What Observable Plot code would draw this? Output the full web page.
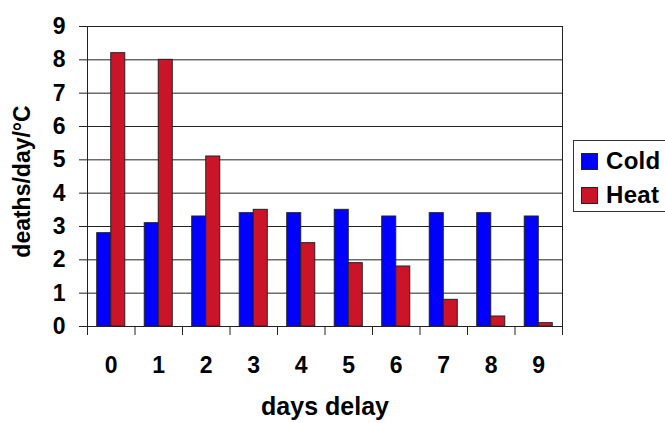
<!DOCTYPE html>
<html>
<head>
<meta charset="utf-8">
<script src="https://cdn.jsdelivr.net/npm/d3@7"></script>
<script src="https://cdn.jsdelivr.net/npm/@observablehq/plot@0.6"></script>
<style>
  html, body { margin: 0; padding: 0; background: #fff; overflow: hidden; }
  #wrap { position: relative; width: 665px; height: 423px; overflow: hidden; font-family: "Liberation Sans", Arial, sans-serif; }
  #legend { position: absolute; left: 573px; top: 140px; width: 120px; height: 72px; border: 1px solid #333; box-sizing: border-box; background: #fff; }
  .row { position: absolute; left: 7px; height: 24px; display: flex; align-items: center; font-weight: bold; font-size: 24px; color: #000; letter-spacing: 0.3px; }
  .sw { width: 15px; height: 15px; border: 1px solid #222; margin-right: 8px; flex: none; }
</style>
</head>
<body>
<div id="wrap"></div>
<script>
const days = [0, 1, 2, 3, 4, 5, 6, 7, 8, 9];
const cold = [2.8, 3.1, 3.3, 3.4, 3.4, 3.5, 3.3, 3.4, 3.4, 3.3];
const heat = [8.2, 8.0, 5.1, 3.5, 2.5, 1.9, 1.8, 0.8, 0.3, 0.1];
const series = ["Cold", "Heat"];
const colors = ["#0000FF", "#CC1428"];
const yTicks = [0, 1, 2, 3, 4, 5, 6, 7, 8, 9];
const boundaries = [-0.5, 0.5, 1.5, 2.5, 3.5, 4.5, 5.5, 6.5, 7.5, 8.5, 9.5];

const barW = 0.295;
const coldData = days.map((d, i) => ({day: d, value: cold[i]}));
const heatData = days.map((d, i) => ({day: d, value: heat[i]}));

const font = "Liberation Sans, Arial, sans-serif";

const chart = Plot.plot({
  width: 665,
  height: 423,
  marginLeft: 87,
  marginRight: 103,
  marginTop: 26,
  marginBottom: 97,
  style: {fontFamily: font, background: "#fff", overflow: "visible"},
  x: {type: "linear", domain: [-0.5, 9.5]},
  y: {domain: [0, 9]},
  marks: [
    Plot.ruleY(yTicks, {y: d => d, x1: -0.5, x2: 9.5, stroke: "#222", strokeWidth: 1}),
    Plot.rectY(coldData, {x1: d => d.day - barW, x2: d => d.day, y1: 0, y2: "value", fill: colors[0], stroke: "#222", strokeWidth: 1}),
    Plot.rectY(heatData, {x1: d => d.day, x2: d => d.day + barW, y1: 0, y2: "value", fill: colors[1], stroke: "#222", strokeWidth: 1}),
    Plot.ruleX([-0.5, 9.5], {x: d => d, y1: 0, y2: 9, stroke: "#222", strokeWidth: 1}),
    Plot.axisX(boundaries, {tickSize: 9, tickFormat: () => "", stroke: "#222", label: null}),
    Plot.axisX(days, {tickSize: 0, tickPadding: 30, tickFormat: d => String(d), fontSize: 23, fontWeight: "bold", fill: "#000", label: null}),
    Plot.axisY(yTicks, {tickSize: 8, tickPadding: 14, tickFormat: d => String(d), fontSize: 23, fontWeight: "bold", fill: "#000", stroke: "#222", label: null}),
    Plot.text(["days delay"], {frameAnchor: "bottom", dy: 88, lineAnchor: "bottom", text: d => d, fontSize: 25, fontWeight: "bold", fill: "#000", style: "letter-spacing:0.4px"}),
    Plot.text(["deaths/day/°C"], {frameAnchor: "left", dx: -65, dy: 5, rotate: -90, textAnchor: "middle", lineAnchor: "middle", text: d => d, fontSize: 23, fontWeight: "bold", fill: "#000"})
  ]
});

const wrap = document.getElementById("wrap");
wrap.appendChild(chart);

const legend = document.createElement("div");
legend.id = "legend";
series.forEach((s, i) => {
  const row = document.createElement("div");
  row.className = "row";
  row.style.top = (8 + i * 34) + "px";
  const sw = document.createElement("div");
  sw.className = "sw";
  sw.style.background = colors[i];
  const t = document.createElement("span");
  t.textContent = s;
  row.appendChild(sw);
  row.appendChild(t);
  legend.appendChild(row);
});
wrap.appendChild(legend);
</script>
</body>
</html>
